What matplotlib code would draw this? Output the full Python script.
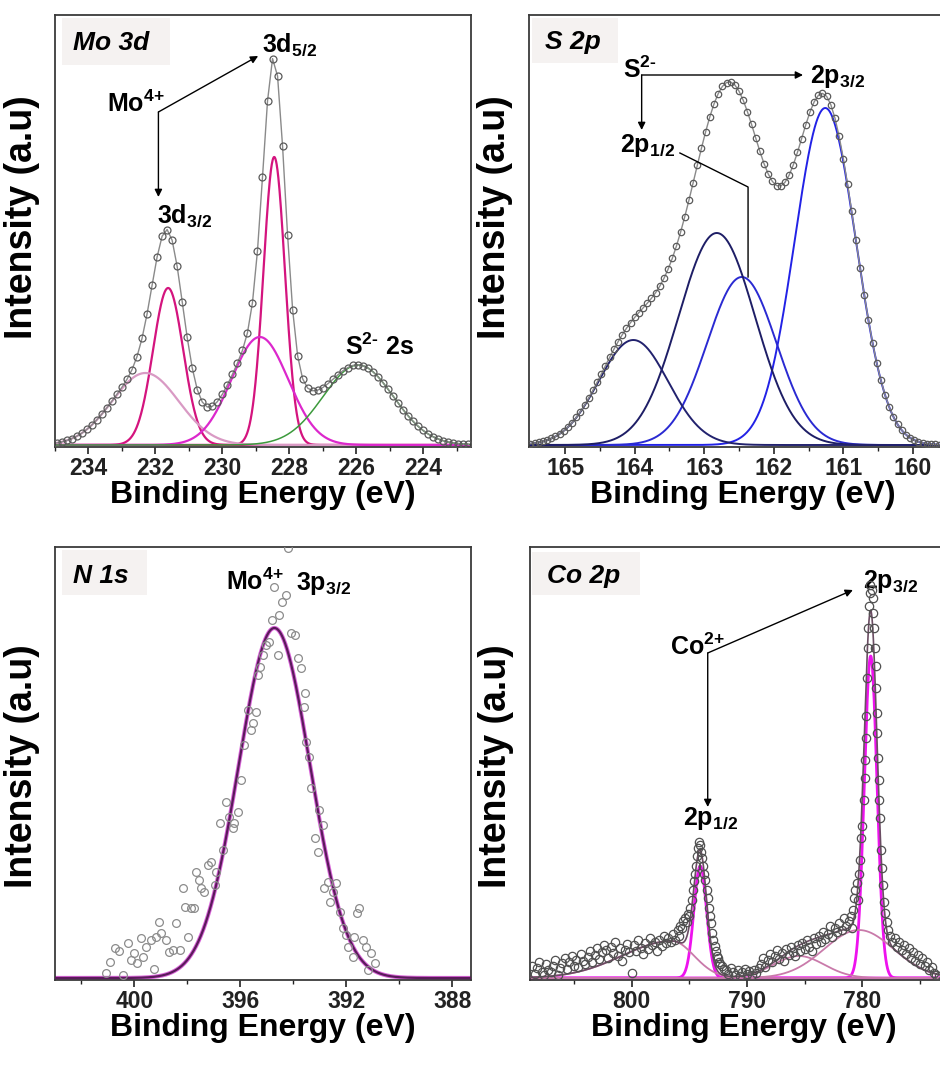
import numpy as np
import matplotlib
matplotlib.use("Agg")
import matplotlib.pyplot as plt
from matplotlib.patches import Rectangle

plt.rcParams['font.family'] = ['Liberation Sans', 'DejaVu Sans']
plt.rcParams['mathtext.fontset'] = 'custom'
plt.rcParams['mathtext.rm'] = 'Liberation Sans:bold'
plt.rcParams['mathtext.it'] = 'Liberation Sans:bold:italic'
plt.rcParams['mathtext.bf'] = 'Liberation Sans:bold'

# ---------------- data ----------------
# Mo 3d fitted components: centre (eV), height (a.u.), width (eV)
mo_centers = [231.62, 228.45, 232.30, 228.88, 225.94]
mo_heights = [157, 288, 72, 108, 80]
mo_widths = [0.45, 0.32, 1.00, 0.85, 1.05]
mo_colors = ['#d4147e', '#d4147e', '#d99ac4', '#dc28cc', '#3c9a3c']
mo_step = 0.15

# S 2p fitted components
s_centers = [161.26, 162.46, 162.82, 164.02]
s_heights = [337, 168, 212, 105]
s_widths = [0.44, 0.50, 0.55, 0.50]
s_colors = ['#2222e6', '#2a2ad2', '#1e1e66', '#22226e']
s_step = 0.06

# N 1s (Mo4+ 3p3/2) measured points and fit
n_be = [401.09, 400.94, 400.75, 400.57, 400.44, 400.25, 400.13, 400.00, 399.91, 399.75,
        399.66, 399.56, 399.37, 399.25, 399.18, 399.06, 398.99, 398.81, 398.68, 398.55,
        398.43, 398.30, 398.18, 398.11, 397.99, 397.86, 397.74, 397.67, 397.57, 397.48,
        397.36, 397.23, 397.11, 396.98, 396.92, 396.79, 396.67, 396.54, 396.42, 396.29,
        396.23, 396.10, 395.97, 395.85, 395.72, 395.60, 395.53, 395.41, 395.35, 395.26,
        395.16, 395.03, 394.91, 394.81, 394.72, 394.59, 394.53, 394.43, 394.30, 394.20,
        394.09, 393.96, 393.84, 393.71, 393.58, 393.62, 393.52, 393.40, 393.33, 393.17,
        393.08, 393.02, 392.89, 392.83, 392.70, 392.64, 392.52, 392.39, 392.26, 392.14,
        392.01, 391.95, 391.76, 391.70, 391.61, 391.51, 391.38, 391.26, 391.19, 391.07, 390.94]
n_int = [5, 16, 30, 27, 3, 35, 18, 25, 15, 40,
         21, 31, 38, 9, 41, 56, 45, 38, 26, 28,
         55, 28, 90, 71, 41, 70, 70, 106, 98, 90,
         86, 113, 116, 93, 106, 155, 128, 176, 161, 150,
         155, 166, 198, 233, 268, 248, 255, 266, 303, 311,
         323, 333, 336, 358, 391, 323, 363, 376, 383, 430,
         345, 343, 320, 310, 285, 271, 236, 221, 190, 140,
         126, 168, 153, 90, 96, 76, 86, 95, 66, 50,
         43, 31, 21, 41, 65, 70, 38, 31, 8, 25, 15]
n_center, n_height, n_width = 394.72, 350, 1.35

# Co 2p measured points
co_be = [808.6, 808.4, 808.2, 808.0, 807.8, 807.6, 807.4, 807.2, 807.0, 806.8,
         806.6, 806.4, 806.2, 806.0, 805.8, 805.6, 805.4, 805.2, 805.0, 804.8,
         804.6, 804.4, 804.2, 804.0, 803.8, 803.6, 803.4, 803.2, 803.0, 802.8,
         802.6, 802.4, 802.2, 802.0, 801.8, 801.6, 801.4, 801.2, 801.0, 800.8,
         800.6, 800.4, 800.2, 800.0, 799.8, 799.6, 799.4, 799.2, 799.0, 798.8,
         798.6, 798.4, 798.2, 798.0, 797.8, 797.6, 797.4, 797.2, 797.0, 796.8, 796.6,
         796.4, 796.2, 796.0, 795.9, 795.8, 795.6, 795.5, 795.4, 795.2, 795.1,
         795.0, 794.9, 794.8, 794.7, 794.6, 794.5, 794.4, 794.3, 794.2, 794.15,
         794.1, 794.0, 793.9, 793.8, 793.7, 793.6, 793.5, 793.4, 793.3, 793.2,
         793.1, 793.0, 792.9, 792.8, 792.7, 792.6, 792.5, 792.4, 792.3, 792.2, 792.0,
         791.8, 791.6, 791.4, 791.2, 791.0, 790.8, 790.6, 790.4, 790.2, 790.0,
         789.8, 789.6, 789.4, 789.2, 789.0,
         788.8, 788.6, 788.4, 788.2, 788.0, 787.8, 787.6, 787.4, 787.2, 787.0,
         786.8, 786.6, 786.4, 786.2, 786.0, 785.8, 785.6, 785.4, 785.2, 785.0,
         784.8, 784.6, 784.4, 784.2, 784.0, 783.8, 783.6, 783.4, 783.2, 783.0,
         782.8, 782.6, 782.4, 782.2, 782.0, 781.8, 781.6, 781.4, 781.2,
         781.0, 780.9, 780.8, 780.7, 780.6, 780.5, 780.4, 780.3, 780.2, 780.1,
         780.0, 779.9, 779.8, 779.75, 779.7, 779.65, 779.6, 779.55, 779.5, 779.4,
         779.35, 779.3, 779.2, 779.1, 779.05, 779.0, 778.9, 778.85, 778.8, 778.75,
         778.7, 778.65, 778.6, 778.55, 778.5, 778.4, 778.3, 778.2, 778.1, 778.0,
         777.9, 777.8, 777.6, 777.4, 777.2, 777.0, 776.8, 776.6, 776.4, 776.2,
         776.0, 775.8, 775.6, 775.4, 775.2, 775.0, 774.8, 774.6, 774.4, 774.2,
         774.0, 773.8, 773.6, 773.4]
co_int = [12, 4, 10, 16, 6, 3, 14, 8, 6, 12,
          18, 3, 10, 15, 20, 9, 16, 22, 12, 18,
          11, 24, 17, 14, 21, 27, 16, 23, 30, 19,
          26, 33, 28, 20, 31, 25, 36, 22, 30, 17,
          28, 34, 26, 5, 33, 27, 38, 30, 24, 35,
          29, 40, 33, 36, 27, 38, 32, 42, 35, 40, 36,
          44, 38, 48, 42, 52, 50, 57, 60, 56, 64,
          62, 70, 78, 88, 97, 104, 112, 122, 130, 136,
          133, 126, 120, 112, 104, 98, 88, 80, 70, 62,
          55, 45, 38, 32, 27, 22, 20, 16, 14, 12, 9,
          8, 4, 10, 6, 3, 8, 2, 6, 9, 4,
          7, 3, 8, 5, 10,
          14, 20, 11, 18, 24, 16, 22, 28, 19, 25,
          17, 29, 23, 31, 26, 22, 33, 27, 35, 29,
          38, 31, 27, 40, 34, 42, 36, 46, 39, 44,
          52, 41, 50, 46, 55, 48, 60, 52, 57,
          62, 50, 68, 80, 88, 95, 78, 104, 118, 140,
          152, 178, 200, 218, 240, 262, 300, 330, 350, 372,
          385, 393, 388, 380, 365, 350, 330, 312, 290, 265,
          245, 220, 198, 178, 160, 128, 110, 93, 76, 65,
          56, 48, 42, 36, 40, 31, 36, 28, 33, 24,
          30, 20, 26, 17, 23, 14, 20, 12, 16, 8,
          11, 5, 3, 2]
# Co 2p fitted components: centre, height, width toward higher BE, width toward lower BE
co_centers = [779.28, 794.05, 780.30, 785.50, 796.50]
co_heights = [322, 112, 48, 22, 37]
co_w_hi = [0.55, 0.55, 3.0, 2.2, 4.3]
co_w_lo = [0.55, 0.55, 3.0, 2.2, 1.9]
co_colors = ['#ee12ee', '#ee12ee', '#c97aaa', '#c97aaa', '#c97aaa']


def peak(x, c, h, w_hi, w_lo=None):
    if w_lo is None:
        w_lo = w_hi
    w = np.where(x >= c, w_hi, w_lo)
    return h * np.exp(-0.5 * ((x - c) / w) ** 2)


# ---------------- figure ----------------
W, H = 940, 1065
fig = plt.figure(figsize=(W / 100, H / 100), dpi=100)


def add_ax(l, t, r, b):
    return fig.add_axes([l / W, 1 - b / H, (r - l) / W, (b - t) / H])


def style(ax, xlim, ylim, majors, minors, ylab_y, ylab_x):
    ax.set_xlim(*xlim)
    ax.set_ylim(*ylim)
    ax.set_yticks([])
    ax.set_xticks(majors, labels=[str(m) for m in majors], fontweight='bold', fontsize=16.5)
    ax.set_xticks(minors, minor=True)
    ax.tick_params(axis='x', which='major', direction='out', length=5, width=1.2,
                   pad=2.0, colors='#222222')
    ax.tick_params(axis='x', which='minor', direction='out', length=3, width=1.0,
                   colors='#222222')
    for sp in ax.spines.values():
        sp.set_color('#3a3a3a')
        sp.set_linewidth(1.3)
    ax.set_xlabel('Binding Energy (eV)', fontsize=23, fontweight='bold', labelpad=0)
    ax.set_ylabel('Intensity (a.u)', fontsize=27, fontweight='bold')
    ax.yaxis.set_label_coords(ylab_x, ylab_y)


def tag(l, t, r, b, tx, ty, text):
    fig.add_artist(Rectangle((l / W, 1 - b / H), (r - l) / W, (b - t) / H,
                             transform=fig.transFigure, facecolor='#f5f2f1',
                             edgecolor='none', zorder=1))
    fig.text(tx / W, 1 - ty / H, text, fontsize=19, fontweight='bold',
             style='italic', ha='left', va='center', zorder=2)


arrow = dict(arrowstyle='-|>', color='black', lw=1.0, mutation_scale=11,
             shrinkA=0, shrinkB=0)
afont = dict(fontsize=18, fontweight='bold', color='black')

# ---- Mo 3d ----
ax1 = add_ax(55, 15, 471, 447)
xf = np.linspace(235.2, 222.4, 1500)
for c, h, w, col in zip(mo_centers, mo_heights, mo_widths, mo_colors):
    lw = 1.1 if col == '#3c9a3c' else 1.6
    ax1.plot(xf, peak(xf, c, h, w), color=col, lw=lw, zorder=2)
mo_be = np.arange(234.95, 222.55, -mo_step)
mo_env = sum(peak(mo_be, c, h, w) for c, h, w in zip(mo_centers, mo_heights, mo_widths))
ax1.plot(mo_be, mo_env, color='#8a8a8a', lw=1.0, marker='o', ms=5, mfc='none',
         mec='#5a5a5a', mew=0.9, zorder=3)
style(ax1, (235.0, 222.57), (-2, 430), [234, 232, 230, 228, 226, 224],
      [235, 233, 231, 229, 227, 225, 223], 0.532, -0.036)
ax1.annotate('', xy=(228.93, 389), xytext=(231.91, 333), arrowprops=arrow)
ax1.annotate('', xy=(231.91, 248), xytext=(231.91, 333), arrowprops=arrow)
ax1.text(231.73, 333, 'Mo$^{4{+}}$', ha='right', va='baseline', **afont)
ax1.text(228.81, 393, '3d$_{5/2}$', ha='left', va='baseline', **afont)
ax1.text(231.94, 222, '3d$_{3/2}$', ha='left', va='baseline', **afont)
ax1.text(226.33, 90, r'S$^{2\text{-}}$ 2s', ha='left', va='baseline', **afont)

# ---- S 2p ----
ax2 = add_ax(529, 15, 956, 447)
xf = np.linspace(165.7, 159.2, 1500)
for c, h, w, col in zip(s_centers, s_heights, s_widths, s_colors):
    ax2.plot(xf, peak(xf, c, h, w), color=col, lw=1.4, zorder=2)
s_be = np.arange(165.50, 159.35, -s_step)
s_env = sum(peak(s_be, c, h, w) for c, h, w in zip(s_centers, s_heights, s_widths))
ax2.plot(s_be, s_env, color='#8a8a8a', lw=1.0, marker='o', ms=4.6, mfc='none',
         mec='#5a5a5a', mew=0.9, zorder=3)
style(ax2, (165.52, 159.38), (-2, 430), [165, 164, 163, 162, 161, 160],
      [164.5, 163.5, 162.5, 161.5, 160.5, 159.5], 0.532, -0.038)
ax2.annotate('', xy=(161.58, 370), xytext=(163.90, 370), arrowprops=arrow)
ax2.annotate('', xy=(163.90, 315), xytext=(163.90, 370), arrowprops=arrow)
ax2.plot([163.35, 162.37, 162.37], [292, 258, 168], color='black', lw=1.0, zorder=4)
ax2.text(164.17, 367, r'S$^{2\text{-}}$', ha='left', va='baseline', **afont)
ax2.text(161.48, 362, '2p$_{3/2}$', ha='left', va='baseline', **afont)
ax2.text(164.21, 293, '2p$_{1/2}$', ha='left', va='baseline', **afont)

# ---- N 1s ----
ax3 = add_ax(55, 547, 471, 980)
xf = np.linspace(403.5, 386.8, 1500)
nfit = peak(xf, n_center, n_height, n_width)
ax3.plot(xf, nfit, color='#d040d0', lw=3.0, alpha=0.8, zorder=2)
ax3.plot(xf, nfit, color='#5c1a5c', lw=1.6, zorder=3)
ax3.plot(n_be, n_int, ls='none', marker='o', ms=5.6, mfc='none', mec='#8c8c8c',
         mew=0.9, zorder=4)
style(ax3, (403.0, 387.3), (-2, 431), [400, 396, 392, 388],
      [402, 398, 394, 390], 0.493, -0.036)
ax3.text(396.53, 388, 'Mo$^{4{+}}$', ha='left', va='baseline', **afont)
ax3.text(393.90, 388, '3p$_{3/2}$', ha='left', va='baseline', **afont)

# ---- Co 2p ----
ax4 = add_ax(530, 547, 957, 980)
xf = np.linspace(809.5, 771.0, 3000)
co_env = np.zeros_like(xf)
for i, (c, h, wh, wl, col) in enumerate(zip(co_centers, co_heights, co_w_hi, co_w_lo, co_colors)):
    comp = peak(xf, c, h, wh, wl)
    co_env += comp
    ax4.plot(xf, comp, color=col, lw=2.0 if i < 2 else 1.3, zorder=2)
ax4.plot(xf, co_env, color='#6b4d63', lw=1.2, zorder=3)
ax4.plot(co_be, co_int, ls='none', marker='o', ms=6, mfc='none', mec='#505050',
         mew=0.9, zorder=4)
style(ax4, (808.8, 771.8), (-2, 431), [800, 790, 780],
      [805, 795, 785, 775], 0.493, -0.038)
ax4.annotate('', xy=(780.82, 388), xytext=(793.40, 325), arrowprops=arrow)
ax4.annotate('', xy=(793.40, 171), xytext=(793.40, 325), arrowprops=arrow)
ax4.text(791.95, 323, 'Co$^{2{+}}$', ha='right', va='baseline', **afont)
ax4.text(795.57, 153, '2p$_{1/2}$', ha='left', va='baseline', **afont)
ax4.text(779.95, 390, '2p$_{3/2}$', ha='left', va='baseline', **afont)

# panel tags
tag(62, 18, 170, 65, 73, 42.5, 'Mo 3d')
tag(532, 18, 618, 63, 545, 42.5, 'S 2p')
tag(62, 550, 147, 595, 73, 576, 'N 1s')
tag(532, 552, 640, 595, 547, 576, 'Co 2p')

fig.savefig('out.png', dpi=100, facecolor='white')
